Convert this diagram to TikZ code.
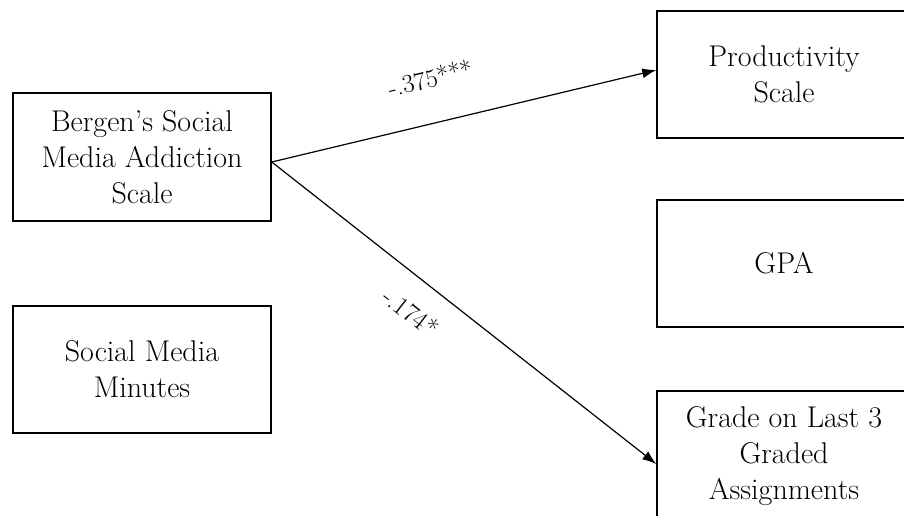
\documentclass[tikz,border=0pt]{standalone}
\usepackage{tikz}
\usetikzlibrary{arrows.meta}

\begin{document}
\begin{tikzpicture}[x=1pt,y=-1pt,
        box/.style={draw, line width=1.5pt, inner sep=0pt, align=center, font=\fontsize{30}{36}\selectfont},
        effect/.style={line width=1.2pt, -{Latex[length=14pt,width=10pt]}},
        coef/.style={font=\fontsize{26}{28}\selectfont}]
        \useasboundingbox (0,0) rectangle (904,515);
        \clip (0,0) rectangle (904,515);
        \fill[white] (0,0) rectangle (904,515);

        % predictors
        \node[box, minimum width=258pt, minimum height=128pt] (bsmas) at (142,157) {Bergen's Social\\Media Addiction\\Scale};
        \node[box, minimum width=258pt, minimum height=127pt] (minutes) at (142,369.5) {Social Media\\Minutes};

        % outcomes
        \node[box, minimum width=254pt, minimum height=127pt] (prod) at (784,74.5) {Productivity\\Scale};
        \node[box, minimum width=254pt, minimum height=127pt] (gpa) at (784,263.5) {GPA};
        \node[box, minimum width=254pt, minimum height=130pt] (grade) at (784,456) {Grade on Last 3\\Graded\\Assignments};

        \draw[effect] ([yshift=-5pt]bsmas.east) -- ([yshift=4.5pt]prod.west);
        \draw[effect] ([yshift=-5pt]bsmas.east) -- ([yshift=-8pt]grade.west);

        \node[coef, rotate=13.4] (b1) at (430,78) {-.375***};
        \node[coef, rotate=-38] (b2) at (411,312) {-.174*};
    \end{tikzpicture}
\end{document}
